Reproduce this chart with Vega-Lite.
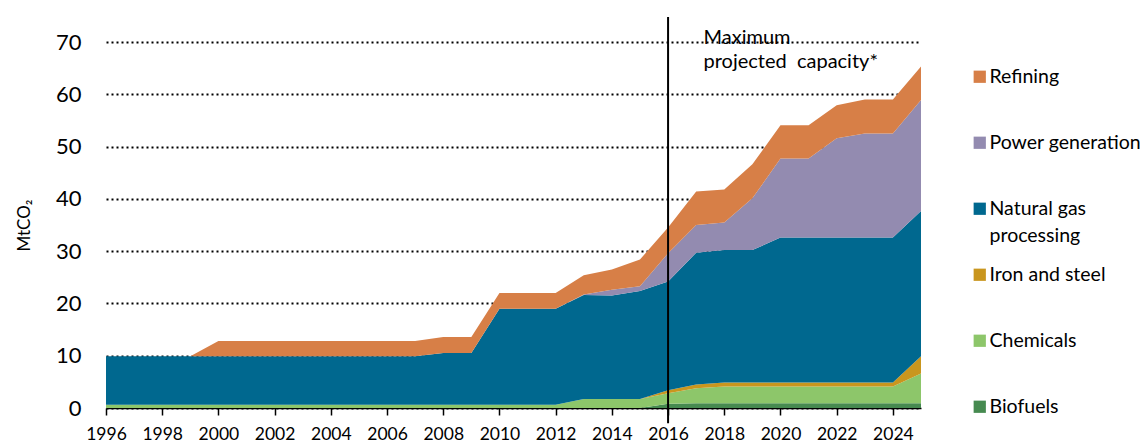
{
  "$schema": "https://vega.github.io/schema/vega-lite/v6.json",
  "width": 815,
  "height": 366,
  "autosize": "none",
  "padding": {"left": 106, "top": 42, "right": 224, "bottom": 35},
  "background": "white",
  "config": {
    "font": "Lato",
    "view": {"stroke": null}
  },
  "datasets": {
    "emissions": [
      {"year": 1996, "Biofuels": 0, "Chemicals": 0.6, "Iron and steel": 0, "Natural gas processing": 9.3, "Power generation": 0, "Refining": 0},
      {"year": 1997, "Biofuels": 0, "Chemicals": 0.6, "Iron and steel": 0, "Natural gas processing": 9.3, "Power generation": 0, "Refining": 0},
      {"year": 1998, "Biofuels": 0, "Chemicals": 0.6, "Iron and steel": 0, "Natural gas processing": 9.3, "Power generation": 0, "Refining": 0},
      {"year": 1999, "Biofuels": 0, "Chemicals": 0.6, "Iron and steel": 0, "Natural gas processing": 9.3, "Power generation": 0, "Refining": 0},
      {"year": 2000, "Biofuels": 0, "Chemicals": 0.6, "Iron and steel": 0, "Natural gas processing": 9.3, "Power generation": 0, "Refining": 2.9},
      {"year": 2001, "Biofuels": 0, "Chemicals": 0.6, "Iron and steel": 0, "Natural gas processing": 9.3, "Power generation": 0, "Refining": 2.9},
      {"year": 2002, "Biofuels": 0, "Chemicals": 0.6, "Iron and steel": 0, "Natural gas processing": 9.3, "Power generation": 0, "Refining": 2.9},
      {"year": 2003, "Biofuels": 0, "Chemicals": 0.6, "Iron and steel": 0, "Natural gas processing": 9.3, "Power generation": 0, "Refining": 2.9},
      {"year": 2004, "Biofuels": 0, "Chemicals": 0.6, "Iron and steel": 0, "Natural gas processing": 9.3, "Power generation": 0, "Refining": 2.9},
      {"year": 2005, "Biofuels": 0, "Chemicals": 0.6, "Iron and steel": 0, "Natural gas processing": 9.3, "Power generation": 0, "Refining": 2.9},
      {"year": 2006, "Biofuels": 0, "Chemicals": 0.6, "Iron and steel": 0, "Natural gas processing": 9.3, "Power generation": 0, "Refining": 2.9},
      {"year": 2007, "Biofuels": 0, "Chemicals": 0.6, "Iron and steel": 0, "Natural gas processing": 9.3, "Power generation": 0, "Refining": 2.9},
      {"year": 2008, "Biofuels": 0, "Chemicals": 0.6, "Iron and steel": 0, "Natural gas processing": 9.9, "Power generation": 0, "Refining": 3.1},
      {"year": 2009, "Biofuels": 0, "Chemicals": 0.6, "Iron and steel": 0, "Natural gas processing": 9.9, "Power generation": 0, "Refining": 3.1},
      {"year": 2010, "Biofuels": 0, "Chemicals": 0.6, "Iron and steel": 0, "Natural gas processing": 18.4, "Power generation": 0, "Refining": 3.0},
      {"year": 2011, "Biofuels": 0, "Chemicals": 0.6, "Iron and steel": 0, "Natural gas processing": 18.4, "Power generation": 0, "Refining": 3.0},
      {"year": 2012, "Biofuels": 0, "Chemicals": 0.6, "Iron and steel": 0, "Natural gas processing": 18.4, "Power generation": 0, "Refining": 3.0},
      {"year": 2013, "Biofuels": 0, "Chemicals": 1.7, "Iron and steel": 0, "Natural gas processing": 19.9, "Power generation": 0.1, "Refining": 3.7},
      {"year": 2014, "Biofuels": 0, "Chemicals": 1.7, "Iron and steel": 0, "Natural gas processing": 19.8, "Power generation": 1.1, "Refining": 3.9},
      {"year": 2015, "Biofuels": 0, "Chemicals": 1.7, "Iron and steel": 0, "Natural gas processing": 20.7, "Power generation": 0.9, "Refining": 5.1},
      {"year": 2016, "Biofuels": 0.8, "Chemicals": 2.0, "Iron and steel": 0.6, "Natural gas processing": 20.8, "Power generation": 5.4, "Refining": 4.9},
      {"year": 2017, "Biofuels": 0.9, "Chemicals": 2.9, "Iron and steel": 0.7, "Natural gas processing": 25.2, "Power generation": 5.3, "Refining": 6.4},
      {"year": 2018, "Biofuels": 0.9, "Chemicals": 3.2, "Iron and steel": 0.8, "Natural gas processing": 25.3, "Power generation": 5.3, "Refining": 6.3},
      {"year": 2019, "Biofuels": 0.9, "Chemicals": 3.2, "Iron and steel": 0.8, "Natural gas processing": 25.3, "Power generation": 9.9, "Refining": 6.5},
      {"year": 2020, "Biofuels": 0.9, "Chemicals": 3.2, "Iron and steel": 0.8, "Natural gas processing": 27.7, "Power generation": 15.1, "Refining": 6.4},
      {"year": 2021, "Biofuels": 0.9, "Chemicals": 3.2, "Iron and steel": 0.8, "Natural gas processing": 27.7, "Power generation": 15.1, "Refining": 6.4},
      {"year": 2022, "Biofuels": 0.9, "Chemicals": 3.2, "Iron and steel": 0.8, "Natural gas processing": 27.7, "Power generation": 19.0, "Refining": 6.3},
      {"year": 2023, "Biofuels": 0.9, "Chemicals": 3.2, "Iron and steel": 0.8, "Natural gas processing": 27.7, "Power generation": 19.9, "Refining": 6.5},
      {"year": 2024, "Biofuels": 0.9, "Chemicals": 3.2, "Iron and steel": 0.8, "Natural gas processing": 27.7, "Power generation": 19.9, "Refining": 6.5},
      {"year": 2025, "Biofuels": 0.9, "Chemicals": 5.7, "Iron and steel": 3.3, "Natural gas processing": 27.8, "Power generation": 21.2, "Refining": 6.4}
    ],
    "marker": [
      {"year": 2016, "low": -2.9, "high": 74.8}
    ],
    "note": [
      {"year": 2017.26, "value": 69.6, "label": "Maximum|projected  capacity*"}
    ]
  },
  "layer": [
    {
      "data": {"name": "emissions"},
      "transform": [
        {"fold": ["Biofuels", "Chemicals", "Iron and steel", "Natural gas processing", "Power generation", "Refining"], "as": ["sector", "mt"]},
        {"calculate": "indexof(['Biofuels','Chemicals','Iron and steel','Natural gas processing','Power generation','Refining'], datum.sector)", "as": "rank"}
      ],
      "mark": {"type": "area", "opacity": 1},
      "encoding": {
        "x": {
          "field": "year", "type": "quantitative",
          "scale": {"domain": [1996, 2025], "nice": false, "zero": false},
          "axis": {
            "title": null,
            "values": [1996,1997,1998,1999,2000,2001,2002,2003,2004,2005,2006,2007,2008,2009,2010,2011,2012,2013,2014,2015,2016,2017,2018,2019,2020,2021,2022,2023,2024,2025],
            "labelExpr": "datum.value % 2 == 0 ? datum.value : ''",
            "grid": false,
            "domainColor": "black", "domainWidth": 1.5,
            "tickColor": "black", "tickWidth": 1.5, "tickSize": 7,
            "labelFontSize": 17.5, "labelColor": "black", "labelPadding": 10,
            "labelFlush": false, "labelOverlap": false
          }
        },
        "y": {
          "field": "mt", "type": "quantitative", "stack": "zero",
          "scale": {"domain": [0, 70], "nice": false},
          "axis": {
            "title": "MtCO₂", "titleFontSize": 17, "titleFontWeight": "normal", "titleColor": "black", "titlePadding": 22,
            "values": [0,10,20,30,40,50,60,70],
            "domain": false, "ticks": false,
            "labelFontSize": 22, "labelColor": "black", "labelPadding": 25,
            "gridColor": "black", "gridDash": [2, 3], "gridWidth": 2, "gridOpacity": 1
          }
        },
        "color": {
          "field": "sector", "type": "nominal",
          "scale": {
            "domain": ["Refining", "Power generation", "Natural gas processing", "Iron and steel", "Chemicals", "Biofuels"],
            "range": ["#D77F47", "#938BB0", "#00688F", "#C9961E", "#8DC66A", "#468A50"]
          },
          "legend": {
            "title": null,
            "orient": "none",
            "legendX": 864,
            "legendY": 25,
            "gridAlign": "all",
            "symbolType": "square",
            "symbolSize": 150,
            "symbolStrokeWidth": 0,
            "symbolOpacity": 1,
            "labelFontSize": 19.5,
            "labelColor": "black",
            "labelOffset": 0,
            "rowPadding": 18,
            "labelLimit": 300,
            "labelExpr": "datum.label == 'Natural gas processing' ? ['Natural gas', 'processing'] : datum.label",
            "encode": {"labels": {"update": {"lineHeight": {"value": 27}}}}
          }
        },
        "order": {"field": "rank", "type": "quantitative", "sort": "ascending"}
      }
    },
    {
      "data": {"name": "marker"},
      "mark": {"type": "rule", "color": "black", "strokeWidth": 2},
      "encoding": {
        "x": {"field": "year", "type": "quantitative"},
        "y": {"field": "low", "type": "quantitative"},
        "y2": {"field": "high"}
      }
    },
    {
      "data": {"name": "note"},
      "transform": [{"calculate": "split(replace(datum.label, '  ', '\u00a0 '), '|')", "as": "lines"}],
      "mark": {"type": "text", "align": "left", "baseline": "alphabetic", "fontSize": 20, "lineHeight": 24, "color": "black"},
      "encoding": {
        "x": {"field": "year", "type": "quantitative"},
        "y": {"field": "value", "type": "quantitative"},
        "text": {"field": "lines"}
      }
    }
  ]
}
